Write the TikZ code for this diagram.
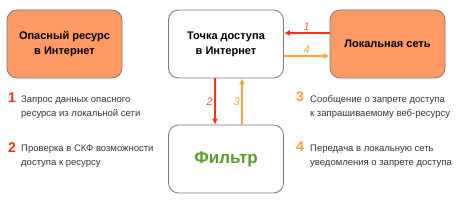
\documentclass[tikz,border=0pt]{standalone}
\usepackage{fontspec}
\setmainfont{Liberation Sans}
\usetikzlibrary{arrows.meta,positioning,calc}
\definecolor{BoxOrange}{HTML}{FF9966}
\definecolor{BoxLine}{HTML}{7A7A7A}
\definecolor{ReqRed}{HTML}{FF3311}
\definecolor{AnsOrange}{HTML}{FFA040}
\definecolor{FiltGreen}{HTML}{5A9E2A}
\definecolor{TxtGray}{HTML}{333333}

\begin{document}
\begin{tikzpicture}[
  x=1pt,y=-1pt,
  box/.style={rectangle,rounded corners=10pt,draw=BoxLine,line width=0.8pt,
              minimum width=115pt,minimum height=68pt,align=center,
              font=\fontsize{11}{15}\selectfont\bfseries},
  hot/.style={box,fill=BoxOrange},
  req/.style={-{Latex[length=6pt,width=6pt]},line width=1.4pt,ReqRed},
  ans/.style={-{Latex[length=6pt,width=6pt]},line width=1.4pt,AnsOrange},
  lbl/.style={font=\fontsize{11}{11}\selectfont\itshape,inner sep=1.5pt},
  num/.style={font=\fontsize{14}{14}\selectfont\bfseries,inner sep=0pt,anchor=base east},
  desc/.style={font=\fontsize{9.5}{14}\selectfont,text=TxtGray,align=left,
               inner sep=0pt,anchor=base west}
]
  \useasboundingbox (0,0) rectangle (464,200);

  % Blocks
  \node[hot] (web) at (64.5,44)  {Опасный ресурс\\в Интернет};
  \node[box] (ap)  at (226,44)   {Точка доступа\\в Интернет};
  \node[hot] (lan) at (387.5,44) {Локальная сеть};
  \node[box,font=\fontsize{17}{17}\selectfont\bfseries,text=FiltGreen]
             (flt) at (226,159)  {Фильтр};

  % Connectors
  \draw[req] ([yshift=11pt]lan.west) -- node[lbl,above,text=ReqRed!80] {1} ([yshift=11pt]ap.east);
  \draw[ans] ([yshift=-12pt]ap.east) -- node[lbl,above,text=AnsOrange] {4} ([yshift=-12pt]lan.west);
  \draw[req] ([xshift=-11pt]ap.south) -- node[lbl,left,text=ReqRed!80] {2} ([xshift=-11pt]flt.north);
  \draw[ans] ([xshift=16pt]flt.north) -- node[lbl,left,text=AnsOrange] {3} ([xshift=16pt]ap.south);

  % Legend (desc anchored at the baseline of its last line)
  \node[num,text=ReqRed]    (n1) at (16,103)  {1};
  \node[desc]               (t1) at (21,117)  {Запрос данных опасного\\ресурса из локальной сети};
  \node[num,text=ReqRed]    (n2) at (16,153)  {2};
  \node[desc]               (t2) at (21,166)  {Проверка в СКФ возможности\\доступа к ресурсу};
  \node[num,text=AnsOrange] (n3) at (304,102) {3};
  \node[desc]               (t3) at (310,116.5) {Сообщение о запрете доступа\\к запрашиваемому веб-ресурсу};
  \node[num,text=AnsOrange] (n4) at (304,152) {4};
  \node[desc]               (t4) at (310,165.5) {Передача в локальную сеть\\уведомления о запрете доступа};
\end{tikzpicture}
\end{document}
